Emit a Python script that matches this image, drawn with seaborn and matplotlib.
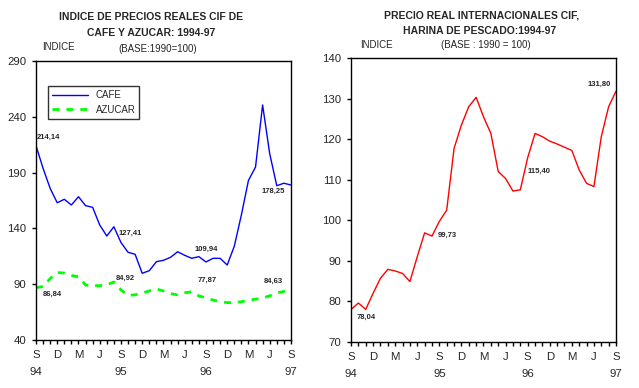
import numpy as np
import pandas as pd
import seaborn as sns
import matplotlib.pyplot as plt
from matplotlib.ticker import MultipleLocator

# ------------------------------------------
# datos mensuales: sep-1994 .. sep-1997
# ------------------------------------------
meses = np.arange(37)

cafe = [214.14, 193.9, 175.9, 163.0, 166.1, 161.0, 168.4, 160.4, 158.9, 143.1,
        133.2, 141.5, 127.41, 118.6, 116.8, 99.8, 102.1, 110.2, 111.4, 114.1,
        119.1, 115.9, 113.2, 114.7, 109.94, 113.2, 113.2, 107.2, 124.0, 152.0,
        183.0, 195.0, 250.6, 207.0, 178.25, 180.5, 178.9]

azucar = [86.84, 88.0, 95.0, 100.5, 100.0, 97.8, 96.7, 89.2, 88.7, 88.7,
          89.5, 92.0, 84.92, 80.0, 80.5, 82.0, 84.0, 85.7, 84.0, 81.5,
          80.5, 82.3, 83.2, 79.5, 77.87, 75.8, 74.4, 73.5, 73.6, 74.3,
          75.6, 76.6, 77.5, 79.6, 82.2, 83.5, 84.63]

harina = [78.0, 79.6, 78.04, 82.0, 85.7, 87.9, 87.5, 86.9, 84.9, 91.0,
          96.9, 96.1, 99.73, 102.5, 117.7, 123.5, 128.0, 130.3, 125.5, 121.4,
          112.0, 110.3, 107.2, 107.5, 115.40, 121.4, 120.6, 119.5, 118.8, 118.0,
          117.2, 112.4, 109.1, 108.3, 120.6, 128.0, 131.80]

etiquetas_x = ['S\n94', 'D', 'M', 'J', 'S\n95', 'D', 'M', 'J',
               'S\n96', 'D', 'M', 'J', 'S\n97']

df = pd.DataFrame({'mes': meses, 'CAFE': cafe, 'AZUCAR': azucar, 'HARINA': harina})

sns.set_style("ticks")
plt.rcParams['font.family'] = ['Liberation Sans', 'DejaVu Sans']

fig = plt.figure(figsize=(6.39, 3.88), dpi=100)
ax1 = fig.add_axes([0.0563, 0.1237, 0.399, 0.719])
ax2 = fig.add_axes([0.5493, 0.1186, 0.4147, 0.732])


def formato_eje(ax, ymin, ymax, paso):
    ax.set_xlim(0, 36)
    ax.set_ylim(ymin, ymax)
    ax.set_xticks(range(0, 37, 3))
    ax.set_xticklabels(etiquetas_x, linespacing=1.85)
    ax.xaxis.set_minor_locator(MultipleLocator(1))
    ax.set_yticks(np.arange(ymin, ymax + 1, paso))
    ax.tick_params(which='both', direction='out', length=3, width=1,
                   color='black', labelsize=8.2, pad=4)
    for s in ax.spines.values():
        s.set_color('black')
        s.set_linewidth(1)
    ax.set_xlabel('')
    ax.set_ylabel('')


# ---- panel izquierdo: cafe y azucar ----
sns.lineplot(data=df, x='mes', y='CAFE', ax=ax1, color='#0000ff', lw=1, label='CAFE')
sns.lineplot(data=df, x='mes', y='AZUCAR', ax=ax1, color='#00ff00', lw=2,
             linestyle=(0, (2.5, 2.5)), label='AZUCAR')
formato_eje(ax1, 40, 290, 50)
leg = ax1.legend(loc='upper left', bbox_to_anchor=(0.047, 0.91), borderaxespad=0,
                 fontsize=7, handlelength=3.7, frameon=True, fancybox=False,
                 labelspacing=0.5, borderpad=0.4)
leg.get_frame().set_edgecolor('black')
leg.get_frame().set_linewidth(1)

for x, y, txt in [(0.1, 221.6, '214,14'), (11.6, 135.6, '127,41'),
                  (22.4, 121.3, '109,94'), (31.8, 173.5, '178,25'),
                  (1.0, 81.2, '86,84'), (11.2, 95.3, '84,92'),
                  (22.8, 93.5, '77,87'), (32.1, 92.3, '84,63')]:
    ax1.text(x, y, txt, fontsize=5.5, fontweight='bold', va='center', ha='left')

# ---- panel derecho: harina de pescado ----
sns.lineplot(data=df, x='mes', y='HARINA', ax=ax2, color='#ff0000', lw=1, legend=False)
formato_eje(ax2, 70, 140, 10)

for x, y, txt in [(0.7, 76.0, '78,04'), (11.8, 96.2, '99,73'),
                  (24.0, 112.0, '115,40'), (32.2, 133.5, '131,80')]:
    ax2.text(x, y, txt, fontsize=5.5, fontweight='bold', va='center', ha='left')

# ---- titulos ----
fig.text(0.236, 0.956, 'INDICE DE PRECIOS REALES CIF DE', ha='center', va='center',
         fontsize=7.5, fontweight='bold')
fig.text(0.236, 0.915, 'CAFE Y AZUCAR: 1994-97', ha='center', va='center',
         fontsize=7.5, fontweight='bold')
fig.text(0.066, 0.879, 'INDICE', ha='left', va='center', fontsize=7)
fig.text(0.246, 0.874, '(BASE:1990=100)', ha='center', va='center', fontsize=7)

fig.text(0.753, 0.961, 'PRECIO REAL INTERNACIONALES CIF,', ha='center', va='center',
         fontsize=7.5, fontweight='bold')
fig.text(0.750, 0.920, 'HARINA DE PESCADO:1994-97', ha='center', va='center',
         fontsize=7.5, fontweight='bold')
fig.text(0.563, 0.884, 'INDICE', ha='left', va='center', fontsize=7)
fig.text(0.761, 0.884, '(BASE : 1990 = 100)', ha='center', va='center', fontsize=7)

fig.savefig('out.png', dpi=100)
